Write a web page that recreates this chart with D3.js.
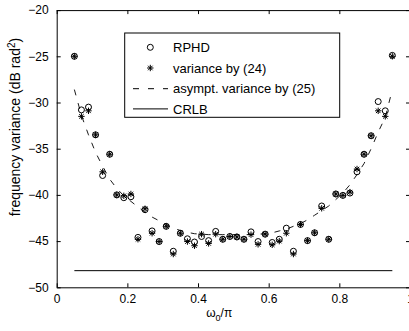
<!DOCTYPE html>
<html><head><meta charset="utf-8">
<script src="https://cdn.jsdelivr.net/npm/d3@7"></script>
<style>
html,body{margin:0;padding:0;background:#fff;overflow:hidden}
svg{display:block;font-family:"Liberation Sans",Arial,sans-serif}
</style></head>
<body>
<svg id="c" width="409" height="331"></svg>
<script>
const omega = [0.05,0.07,0.09,0.11,0.13,0.15,0.17,0.19,0.21,0.23,0.25,0.27,0.29,0.31,0.33,0.35,0.37,0.39,0.41,0.43,0.45,0.47,0.49,0.51,0.53,0.55,0.57,0.59,0.61,0.63,0.65,0.67,0.69,0.71,0.73,0.75,0.77,0.79,0.81,0.83,0.85,0.87,0.89,0.91,0.93,0.95];
const rphd = [-25.0,-30.8,-30.5,-33.5,-37.9,-35.6,-40.0,-40.3,-40.2,-44.6,-41.6,-43.9,-45.05,-43.4,-46.1,-44.15,-44.75,-45.1,-44.5,-44.95,-43.95,-44.8,-44.5,-44.55,-44.8,-44.0,-45.05,-44.25,-45.15,-44.8,-43.6,-46.1,-43.2,-44.95,-44.1,-41.2,-44.8,-39.9,-40.05,-39.8,-37.5,-35.6,-33.6,-29.9,-30.9,-24.9];
const var24 = [-25.0,-31.5,-30.9,-33.5,-37.5,-35.6,-40.0,-40.1,-39.9,-44.8,-41.5,-44.15,-45.05,-43.4,-46.4,-44.15,-45.05,-45.5,-44.25,-45.25,-44.25,-44.8,-44.5,-44.55,-44.8,-44.3,-45.35,-44.25,-45.4,-45.0,-44.15,-46.4,-43.2,-44.95,-44.1,-41.45,-44.8,-39.9,-40.05,-39.7,-37.2,-35.6,-33.6,-30.9,-31.5,-25.0];
const asympt = [-28.6,-31.4,-33.5,-35.4,-36.9,-38.3,-39.3,-40.1,-40.7,-41.3,-41.9,-42.4,-42.8,-43.2,-43.6,-43.85,-44.05,-44.2,-44.25,-44.3,-44.3,-44.3,-44.3,-44.3,-44.3,-44.3,-44.25,-44.2,-44.1,-43.9,-43.7,-43.4,-43.1,-42.7,-42.2,-41.7,-41.2,-40.5,-39.8,-38.9,-37.8,-36.6,-35.0,-33.2,-31.6,-28.6];
const crlbX = [0.05, 0.95];
const crlb = [-48.2, -48.2];
const xTicks = [0,0.2,0.4,0.6,0.8,1];
const yTicks = [-50,-45,-40,-35,-30,-25,-20];
const legendLabels = ["RPHD","variance by (24)","asympt. variance by (25)","CRLB"];

const svg = d3.select("#c");
const L = 56.7, R = 410, T = 10.1, B = 287.3;
const x = d3.scaleLinear().domain([0,1]).range([L,R]);
const y = d3.scaleLinear().domain([-50,-20]).range([B,T]);

// axes
const fmtX = d => d===0 ? "0" : (d===1 ? "1" : d3.format(".1f")(d));
const fmtY = d => String(d).replace("-", "\u2212");
const tl = 4;
const ax = svg.append("g").attr("transform",`translate(0,${B})`)
  .call(d3.axisBottom(x).tickValues(xTicks).tickFormat(fmtX).tickSizeInner(-tl).tickSizeOuter(0).tickPadding(7));
const axT = svg.append("g").attr("transform",`translate(0,${T})`)
  .call(d3.axisTop(x).tickValues(xTicks).tickFormat("").tickSizeInner(-tl).tickSizeOuter(0));
const ay = svg.append("g").attr("transform",`translate(${L},0)`)
  .call(d3.axisLeft(y).tickValues(yTicks).tickFormat(fmtY).tickSizeInner(-tl).tickSizeOuter(0).tickPadding(8));
const ayR = svg.append("g").attr("transform",`translate(${R},0)`)
  .call(d3.axisRight(y).tickValues(yTicks).tickFormat("").tickSizeInner(-tl).tickSizeOuter(0));
[ax,axT,ay,ayR].forEach(g=>{
  g.selectAll("path,line").attr("stroke","#000").attr("stroke-width",1);
  g.selectAll("text").attr("fill","#000").style("font-size","12px").style("font-family","'Liberation Sans',Arial,sans-serif");
});

// y label
svg.append("text").attr("transform",`translate(20,127) rotate(-90)`)
  .attr("text-anchor","middle").style("font-size","14px")
  .html('frequency variance (dB rad<tspan dy="-5" font-size="10px">2</tspan><tspan dy="5">)</tspan>');
// x label
const xl = svg.append("text").attr("x",(x(0.46))).attr("y",317).attr("text-anchor","middle").style("font-size","12px");
xl.append("tspan").text("\u03c9");
xl.append("tspan").attr("dy",4).style("font-size","9px").text("0");
xl.append("tspan").attr("dy",-4).text("/\u03c0");

// CRLB
const line = d3.line().x(d=>x(d[0])).y(d=>y(d[1]));
svg.append("path").datum(crlbX.map((v,i)=>[v,crlb[i]])).attr("d",line)
  .attr("fill","none").attr("stroke","#000").attr("stroke-width",1);
// asympt dashed
svg.append("path").datum(omega.map((v,i)=>[v,asympt[i]])).attr("d",line.curve(d3.curveLinear))
  .attr("fill","none").attr("stroke","#000").attr("stroke-width",0.9).attr("stroke-dasharray","6,8");

// star marker path
const starPath = (s) => {
  const a = s, b = s*0.707;
  return `M${-a},0L${a},0M0,${-a}L0,${a}M${-b},${-b}L${b},${b}M${-b},${b}L${b},${-b}`;
};
svg.append("g").selectAll("path").data(omega).join("path")
  .attr("transform",(d,i)=>`translate(${x(d)},${y(var24[i])})`)
  .attr("d",starPath(3.2)).attr("stroke","#000").attr("stroke-width",1).attr("fill","none");
svg.append("g").selectAll("circle").data(omega).join("circle")
  .attr("cx",d=>x(d)).attr("cy",(d,i)=>y(rphd[i])).attr("r",3)
  .attr("fill","none").attr("stroke","#000").attr("stroke-width",1);

// legend
const lg = svg.append("g");
lg.append("rect").attr("x",124.7).attr("y",33).attr("width",215).attr("height",84.3)
  .attr("fill","#fff").attr("stroke","#000").attr("stroke-width",1);
const rowY = [47.3,68,88.7,108.9];
legendLabels.forEach((t,i)=>{
  lg.append("text").attr("x",173).attr("y",rowY[i]).attr("dy","0.36em").style("font-size","13px").text(t);
});
lg.append("circle").attr("cx",150.3).attr("cy",rowY[0]).attr("r",3).attr("fill","none").attr("stroke","#000");
lg.append("path").attr("transform",`translate(150.3,${rowY[1]})`).attr("d",starPath(3.2)).attr("stroke","#000").attr("fill","none");
lg.append("line").attr("x1",133).attr("x2",168).attr("y1",rowY[2]).attr("y2",rowY[2]).attr("stroke","#000").attr("stroke-dasharray","6,9");
lg.append("line").attr("x1",133).attr("x2",168).attr("y1",rowY[3]).attr("y2",rowY[3]).attr("stroke","#000");
</script>
</body></html>
